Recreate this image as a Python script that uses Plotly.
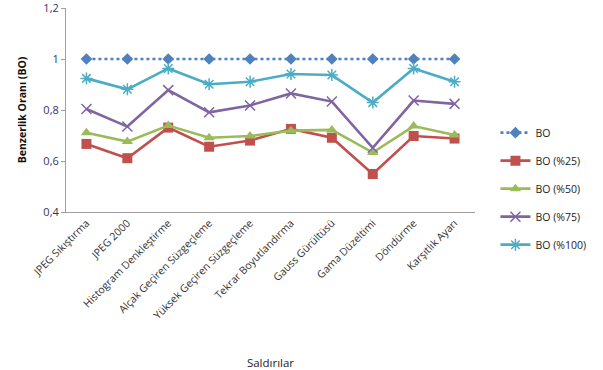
import plotly.graph_objects as go

categories = ["JPEG Sıkıştırma", "JPEG 2000", "Histogram Denkleştirme", "Alçak Geçiren Süzgeçleme",
              "Yüksek Geçiren Süzgeçleme", "Tekrar Boyutlandırma", "Gauss Gürültüsü",
              "Gama Düzeltimi", "Döndürme", "Karşıtlık Ayarı"]
bo = [1, 1, 1, 1, 1, 1, 1, 1, 1, 1]
bo25 = [0.667, 0.611, 0.731, 0.656, 0.680, 0.726, 0.691, 0.549, 0.698, 0.688]
bo50 = [0.711, 0.676, 0.739, 0.691, 0.698, 0.719, 0.722, 0.633, 0.737, 0.702]
bo75 = [0.804, 0.735, 0.878, 0.791, 0.818, 0.865, 0.833, 0.652, 0.837, 0.824]
bo100 = [0.924, 0.881, 0.963, 0.901, 0.911, 0.941, 0.937, 0.829, 0.963, 0.911]
names = ["BO", "BO (%25)", "BO (%50)", "BO (%75)", "BO (%100)"]

series = [bo, bo25, bo50, bo75, bo100]
colors = ["#4F81BD", "#C0504D", "#9BBB59", "#8064A2", "#4BACC6"]
symbols = ["diamond", "square", "triangle-up", "x-thin-open", "asterisk-open"]
sizes = [9, 10, 10, 10, 10]
dashes = ["dot", "solid", "solid", "solid", "solid"]

fig = go.Figure()
for i, (s, n) in enumerate(zip(series, names)):
    fig.add_trace(go.Scatter(
        x=categories, y=s, name=n, mode="lines+markers",
        line=dict(color=colors[i], width=2.6, dash=dashes[i]),
        marker=dict(symbol=symbols[i], size=sizes[i], color=colors[i],
                    line=dict(color=colors[i] if i < 3 else ("#9F8CC0" if i == 3 else "#8AD3E6"), width=1.5 if i >= 3 else 0)),
        legendgroup=n,
    ))

font = "Open Sans, Liberation Sans, sans-serif"
fig.update_layout(
    width=603, height=370,
    margin=dict(l=66, r=128, t=8, b=158),
    plot_bgcolor="white", paper_bgcolor="white",
    separators=", ",
    font=dict(family=font, size=10, color="#222"),
    showlegend=True,
    legend=dict(x=1.05, y=0.46, xanchor="left", yanchor="top",
                traceorder="grouped", tracegroupgap=9,
                font=dict(size=10.5, color="#222"), itemwidth=30),
    xaxis=dict(showline=True, linecolor="#A0A0A0", linewidth=1, showgrid=False,
               tickangle=-45, ticks="", tickfont=dict(size=10.5, color="#333"),
               title=dict(text="Saldırılar", font=dict(size=11.5, color="#222"), standoff=38),
               range=[-0.5, 9.5], automargin=False),
    yaxis=dict(showline=True, linecolor="#A0A0A0", linewidth=1, showgrid=False,
               range=[0.4, 1.2], dtick=0.2, ticks="outside", ticklen=4, tickcolor="#A0A0A0",
               tickfont=dict(size=11, color="#333366"), automargin=False,
               ticklabeloverflow="allow",
               title=dict(text="<b>Benzerlik Oranı (BO)</b>", font=dict(size=10.5, color="#111"), standoff=14)),
)
fig.write_html("out.html")
